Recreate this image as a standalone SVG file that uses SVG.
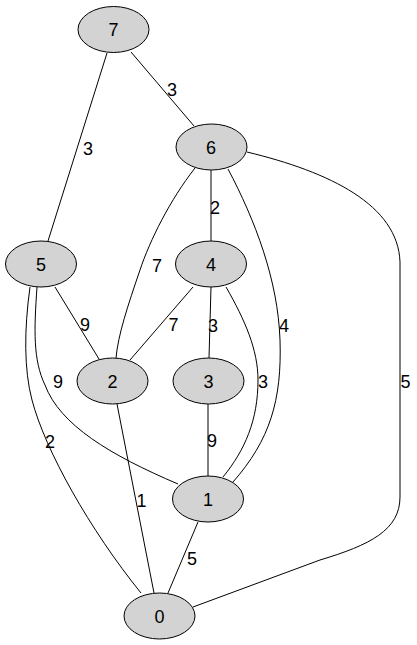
<svg xmlns="http://www.w3.org/2000/svg" width="417" height="645" viewBox="0 0 417 645">
<style>
.e{fill:none;stroke:#000;stroke-width:1}
.n ellipse{fill:#d3d3d3;stroke:#000;stroke-width:1}
text{font-family:"Liberation Sans",Arial,sans-serif;font-size:18px;fill:#000;text-anchor:middle}
</style>
<rect width="417" height="645" fill="#fff"/>
<g id="edges">
<path class="e" d="M131,52 L194,126"/>
<path class="e" d="M107,53 L48,241"/>
<path class="e" d="M211,170 L211,241"/>
<path class="e" d="M195,168 C170,200 150,240 140,270 C128,305 118,335 116,358"/>
<path class="e" d="M228,169 C255,220 278,280 280,340 C282,400 270,440 233,482"/>
<path class="e" d="M247,152 C330,172 398,205 400,262 L400,497 C400,530 370,545 320,560 L193,607"/>
<path class="e" d="M55,287 L99,359"/>
<path class="e" d="M37,287 C34,330 33,360 45,385 C60,425 110,455 178,484"/>
<path class="e" d="M30,287 C24,330 24,370 32,400 C45,450 90,530 141,593"/>
<path class="e" d="M193,287 L130,360"/>
<path class="e" d="M211,287 L209,358"/>
<path class="e" d="M226,287 C245,320 258,350 258,380 C258,420 245,450 223,477"/>
<path class="e" d="M208,404 L208,476"/>
<path class="e" d="M117,404 L154,593"/>
<path class="e" d="M198,522 L168,593"/>
<text x="172" y="95.5">3</text>
<text x="88" y="154.5">3</text>
<text x="215" y="213.5">2</text>
<text x="157" y="271.5">7</text>
<text x="284" y="331.5">4</text>
<text x="405.5" y="388">5</text>
<text x="85" y="330.5">9</text>
<text x="58" y="388">9</text>
<text x="50" y="447.5">2</text>
<text x="173.5" y="330.5">7</text>
<text x="213" y="331.5">3</text>
<text x="263" y="388">3</text>
<text x="212" y="446.5">9</text>
<text x="141.5" y="506.5">1</text>
<text x="192" y="564.5">5</text>
</g>
<g id="n7" class="n"><ellipse cx="113.5" cy="29.5" rx="35.5" ry="23"/><text x="113.5" y="36">7</text></g>
<g id="n6" class="n"><ellipse cx="211.5" cy="147" rx="35.5" ry="23"/><text x="211" y="153.5">6</text></g>
<g id="n5" class="n"><ellipse cx="41" cy="264" rx="35.5" ry="23"/><text x="41" y="270.5">5</text></g>
<g id="n4" class="n"><ellipse cx="211" cy="264" rx="35.5" ry="23"/><text x="211" y="270.5">4</text></g>
<g id="n2" class="n"><ellipse cx="112.5" cy="381" rx="35.5" ry="23"/><text x="112.5" y="387.5">2</text></g>
<g id="n3" class="n"><ellipse cx="208.5" cy="381" rx="35.5" ry="23"/><text x="208.5" y="387.5">3</text></g>
<g id="n1" class="n"><ellipse cx="208" cy="499" rx="35.5" ry="23"/><text x="208" y="505.5">1</text></g>
<g id="n0" class="n"><ellipse cx="159.5" cy="616" rx="35.5" ry="23"/><text x="159.5" y="622.5">0</text></g>
</svg>
